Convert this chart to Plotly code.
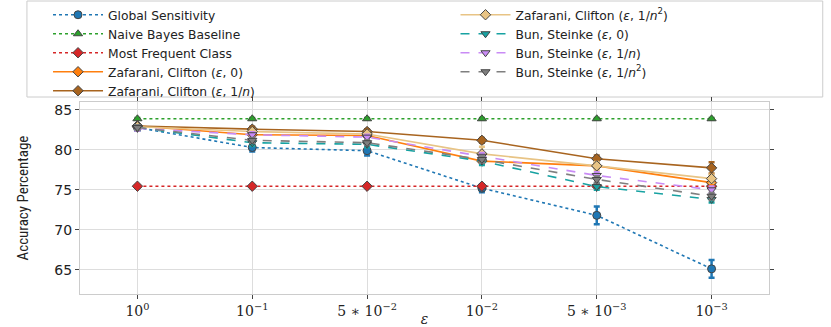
import plotly.graph_objects as go

categories = ["10<sup>0</sup>", "10<sup>−1</sup>", "5 ∗ 10<sup>−2</sup>",
              "10<sup>−2</sup>", "5 ∗ 10<sup>−3</sup>", "10<sup>−3</sup>"]

names = ["Global Sensitivity", "Naive Bayes Baseline", "Most Frequent Class",
         "Zafarani, Clifton (<i>ε</i>, 0)", "Zafarani, Clifton (<i>ε</i>, 1/<i>n</i>)",
         "Zafarani, Clifton (<i>ε</i>, 1/<i>n</i><sup>2</sup>)",
         "Bun, Steinke (<i>ε</i>, 0)", "Bun, Steinke (<i>ε</i>, 1/<i>n</i>)",
         "Bun, Steinke (<i>ε</i>, 1/<i>n</i><sup>2</sup>)"]

global_sens = [82.8, 80.3, 79.9, 75.2, 71.8, 65.1]
global_sens_err = [0.4, 0.5, 0.6, 0.5, 1.1, 1.1]
naive_bayes = [83.9, 83.9, 83.9, 83.9, 83.9, 83.9]
naive_bayes_err = [0.1, 0.1, 0.1, 0.1, 0.1, 0.1]
most_frequent = [75.45, 75.45, 75.45, 75.45, 75.45, 75.45]
most_frequent_err = [0.1, 0.1, 0.1, 0.1, 0.1, 0.1]
zc_0 = [83.0, 81.9, 81.8, 78.6, 78.0, 75.9]
zc_0_err = [0.2, 0.2, 0.2, 0.3, 0.3, 0.4]
zc_n = [83.0, 82.6, 82.3, 81.2, 78.9, 77.75]
zc_n_err = [0.2, 0.3, 0.3, 0.3, 0.4, 0.7]
zc_n2 = [82.9, 82.3, 82.0, 79.5, 78.0, 76.4]
zc_n2_err = [0.2, 0.3, 0.3, 0.9, 0.5, 0.5]
bs_0 = [82.8, 80.9, 80.7, 78.6, 75.4, 73.8]
bs_0_err = [0.3, 0.4, 0.4, 0.5, 0.4, 0.4]
bs_n = [82.7, 81.9, 81.6, 79.2, 76.8, 75.0]
bs_n_err = [0.3, 0.3, 0.3, 0.4, 0.4, 0.4]
bs_n2 = [82.8, 81.2, 80.9, 78.8, 76.3, 74.2]
bs_n2_err = [0.3, 0.3, 0.3, 0.4, 0.4, 0.4]

series = [
    (global_sens, global_sens_err, "#1f77b4", "dot", "circle", "legend"),
    (naive_bayes, naive_bayes_err, "#2ca02c", "dot", "triangle-up", "legend"),
    (most_frequent, most_frequent_err, "#d62728", "dot", "diamond", "legend"),
    (zc_0, zc_0_err, "#ff7f0e", "solid", "diamond", "legend"),
    (zc_n, zc_n_err, "#a8641f", "solid", "diamond", "legend"),
    (zc_n2, zc_n2_err, "#e8c485", "solid", "diamond", "legend2"),
    (bs_0, bs_0_err, "#17a2a2", "dash", "triangle-down", "legend2"),
    (bs_n, bs_n_err, "#c98bf5", "dash", "triangle-down", "legend2"),
    (bs_n2, bs_n2_err, "#7f7f7f", "dash", "triangle-down", "legend2"),
]

fig = go.Figure()
for name, (vals, errs, color, dash, sym, leg) in zip(names, series):
    fig.add_trace(go.Scatter(
        x=categories, y=vals, name=name, mode="lines+markers",
        line=dict(color=color, dash=dash, width=1.6),
        marker=dict(symbol=sym, size=8, color=color,
                    line=dict(color="#444444", width=1)),
        error_y=dict(type="data", array=errs, color=color, thickness=2.5, width=3),
        legend=leg,
    ))

legend_font = dict(family="DejaVu Sans", size=12.3, color="#222222")
fig.update_layout(
    width=831, height=327,
    margin=dict(l=80, r=62, t=102, b=33, autoexpand=False),
    plot_bgcolor="white", paper_bgcolor="white",
    showlegend=True,
    legend=dict(x=-0.0464, y=1.53, xanchor="left", yanchor="top",
                font=legend_font, bgcolor="rgba(0,0,0,0)",
                itemwidth=50, tracegroupgap=0),
    legend2=dict(x=0.545, y=1.53, xanchor="left", yanchor="top",
                 font=legend_font, bgcolor="rgba(0,0,0,0)",
                 itemwidth=50, tracegroupgap=0),
    xaxis=dict(
        type="category", range=[-0.5, 5.5],
        showgrid=True, gridcolor="#dddddd", gridwidth=1,
        showline=True, linecolor="#cccccc", mirror="ticks",
        ticks="outside", ticklen=4, tickcolor="#444444",
        tickfont=dict(family="DejaVu Serif", size=14, color="#222222"),
        title=dict(text="<i>ε</i>", font=dict(family="DejaVu Serif", size=14, color="#222222"),
                   standoff=2),
    ),
    yaxis=dict(
        range=[61.95, 86.0], tickvals=[65, 70, 75, 80, 85],
        showgrid=True, gridcolor="#dddddd", gridwidth=1,
        showline=True, linecolor="#cccccc", mirror="ticks",
        ticks="outside", ticklen=4, tickcolor="#444444",
        tickfont=dict(family="DejaVu Sans", size=14, color="#222222"),
        zeroline=False,
        title=dict(text="Accuracy Percentage",
                   font=dict(family="Liberation Sans Narrow, Roboto Condensed, Roboto, sans-serif", size=15, color="#222222"),
                   standoff=22),
    ),
    shapes=[dict(type="rect", xref="paper", yref="paper",
                 x0=-0.077, x1=1.078, y0=1.026, y1=1.526,
                 line=dict(color="#cccccc", width=1), fillcolor="rgba(0,0,0,0)",
                 layer="below")],
)

fig.write_html("out.html", config={"displayModeBar": False},
               post_script="document.body.style.margin='0';document.body.style.overflow='hidden';")
